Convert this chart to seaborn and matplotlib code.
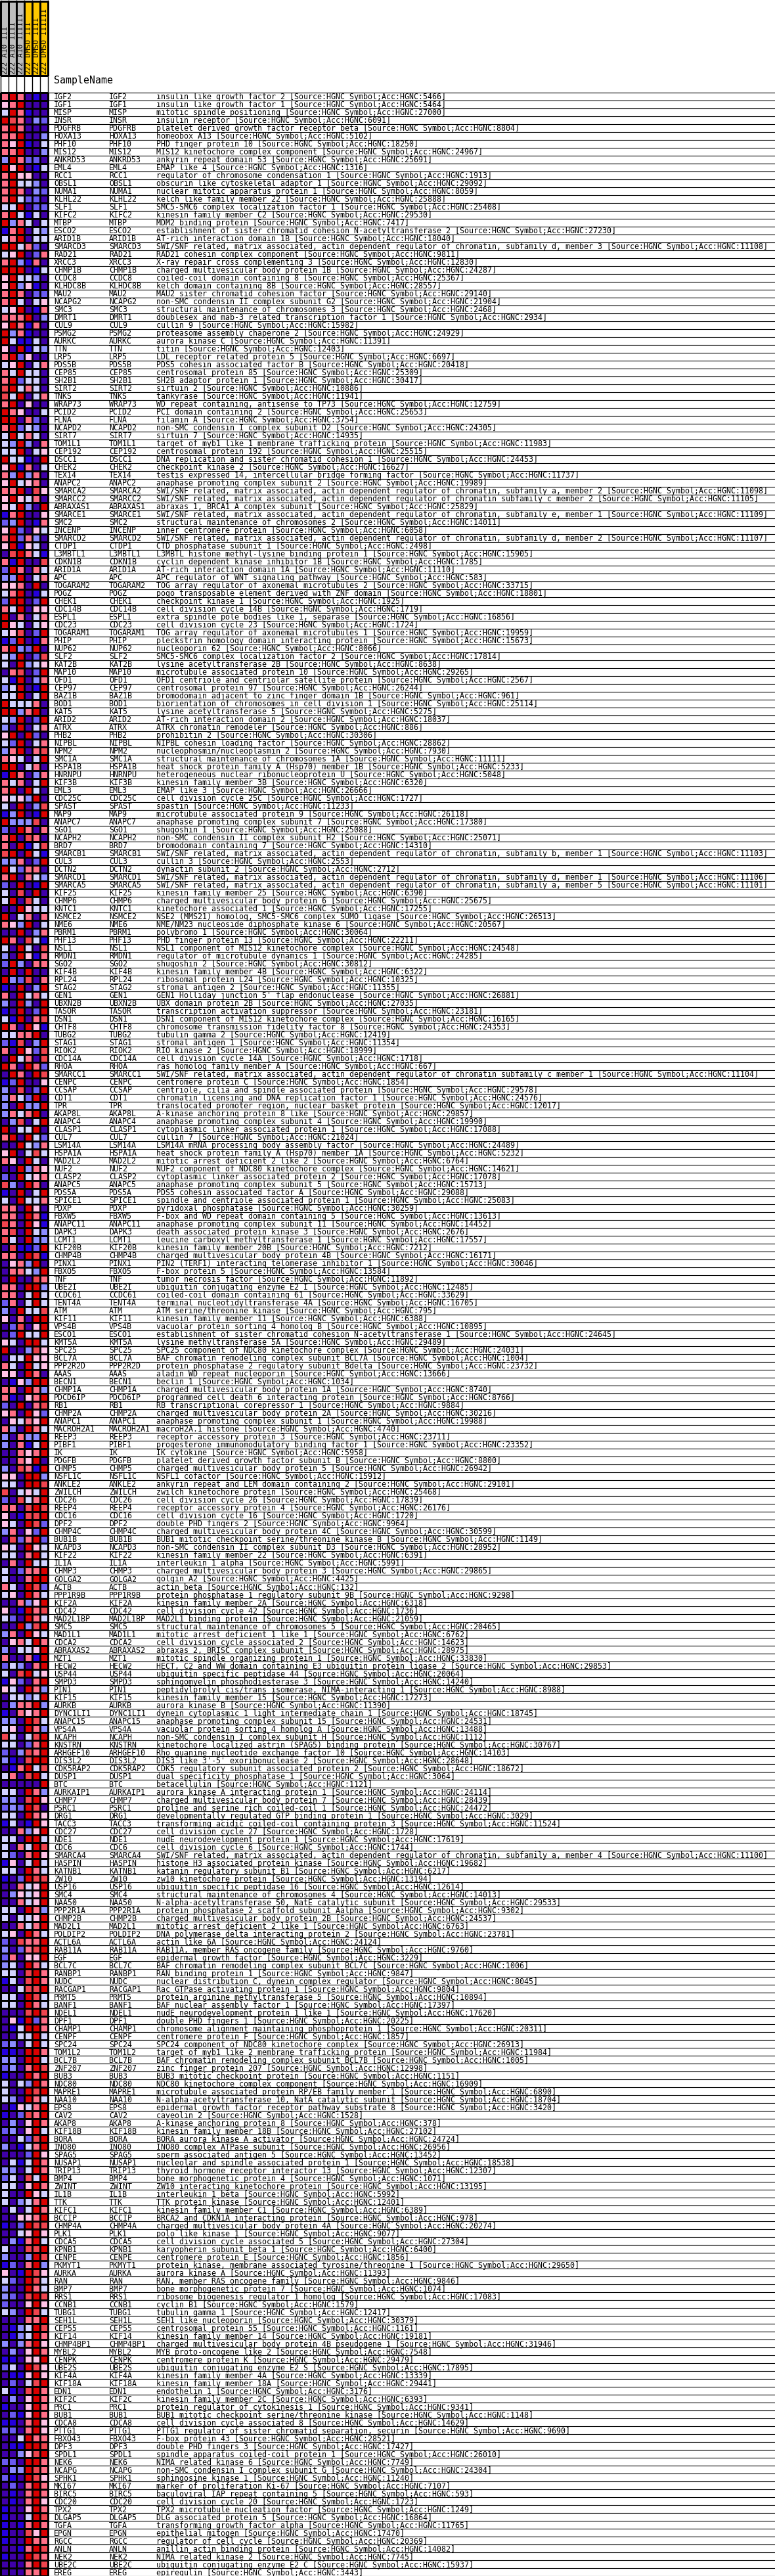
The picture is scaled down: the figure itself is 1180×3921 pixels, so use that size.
import numpy as np
import pandas as pd
import matplotlib
matplotlib.use("Agg")
import matplotlib.pyplot as plt
import seaborn as sns
from matplotlib.colors import LinearSegmentedColormap, ListedColormap

# ---------------- data ----------------
samples = ["222_A10_III", "222_A10_IIII", "222_A10_IIIIII",
           "222_DMSO_III", "222_DMSO_IIII", "222_DMSO_IIIIII"]
groups = ["A10", "A10", "A10", "DMSO", "DMSO", "DMSO"]
group_colors = {"A10": "#BEBEBE", "DMSO": "#FFC800"}

# colour level codes read off each cell (row z-scores, estimated)
code_value = {"D": -1.0, "B": -0.85, "m": -0.65, "b": -0.45, "l": -0.2,
              "p": 0.2, "s": 0.5, "o": 0.75, "R": 1.0}

genes = [
    "IGF2", "IGF1", "MISP", "INSR", "PDGFRB", "HOXA13", "PHF10", "MIS12", "ANKRD53", "EML4",
    "RCC1", "OBSL1", "NUMA1", "KLHL22", "SLF1", "KIFC2", "MTBP", "ESCO2", "ARID1B", "SMARCD3",
    "RAD21", "XRCC3", "CHMP1B", "CCDC8", "KLHDC8B", "MAU2", "NCAPG2", "SMC3", "DMRT1", "CUL9",
    "PSMG2", "AURKC", "TTN", "LRP5", "PDS5B", "CEP85", "SH2B1", "SIRT2", "TNKS", "WRAP73",
    "PCID2", "FLNA", "NCAPD2", "SIRT7", "TOM1L1",
    "CEP192", "DSCC1", "CHEK2", "TEX14", "ANAPC2", "SMARCA2", "SMARCC2", "ABRAXAS1", "SMARCE1", "SMC2",
    "INCENP", "SMARCD2", "CTDP1", "L3MBTL1", "CDKN1B", "ARID1A", "APC", "TOGARAM2", "POGZ", "CHEK1",
    "CDC14B", "ESPL1", "CDC23", "TOGARAM1", "PHIP", "NUP62", "SLF2", "KAT2B", "MAP10", "OFD1",
    "CEP97", "BAZ1B", "BOD1", "KAT5", "ARID2", "ATRX", "PHB2", "NIPBL", "NPM2", "SMC1A",
    "HSPA1B", "HNRNPU", "KIF3B", "EML3", "CDC25C",
    "SPAST", "MAP9", "ANAPC7", "SGO1", "NCAPH2", "BRD7", "SMARCB1", "CUL3", "DCTN2", "SMARCD1",
    "SMARCA5", "KIF25", "CHMP6", "KNTC1", "NSMCE2", "NME6", "PBRM1", "PHF13", "NSL1", "RMDN1",
    "SGO2", "KIF4B", "RPL24", "STAG2", "GEN1", "UBXN2B", "TASOR", "DSN1", "CHTF8", "TUBG2",
    "STAG1", "RIOK2", "CDC14A", "RHOA", "SMARCC1", "CENPC", "CCSAP", "CDT1", "TPR", "AKAP8L",
    "ANAPC4", "CLASP1", "CUL7", "LSM14A", "HSPA1A",
    "MAD2L2", "NUF2", "CLASP2", "ANAPC5", "PDS5A", "SPICE1", "PDXP", "FBXW5", "ANAPC11", "DAPK3",
    "LCMT1", "KIF20B", "CHMP4B", "PINX1", "FBXO5", "TNF", "UBE2I", "CCDC61", "TENT4A", "ATM",
    "KIF11", "VPS4B", "ESCO1", "KMT5A", "SPC25", "BCL7A", "PPP2R2D", "AAAS", "BECN1", "CHMP1A",
    "PDCD6IP", "RB1", "CHMP2A", "ANAPC1", "MACROH2A1", "REEP3", "PIBF1", "IK", "PDGFB", "CHMP5",
    "NSFL1C", "ANKLE2", "ZWILCH", "CDC26", "REEP4",
    "CDC16", "DPF2", "CHMP4C", "BUB1B", "NCAPD3", "KIF22", "IL1A", "CHMP3", "GOLGA2", "ACTB",
    "PPP1R9B", "KIF2A", "CDC42", "MAD2L1BP", "SMC5", "MAD1L1", "CDCA2", "ABRAXAS2", "MZT1", "HECW2",
    "USP44", "SMPD3", "PIN1", "KIF15", "AURKB", "DYNC1LI1", "ANAPC15", "VPS4A", "NCAPH", "KNSTRN",
    "ARHGEF10", "DIS3L2", "CDK5RAP2", "DUSP1", "BTC", "AURKAIP1", "CHMP7", "PSRC1", "DRG1", "TACC3",
    "CDC27", "NDE1", "CDC6", "SMARCA4", "HASPIN",
    "KATNB1", "ZW10", "USP16", "SMC4", "NAA50", "PPP2R1A", "CHMP2B", "MAD2L1", "POLDIP2", "ACTL6A",
    "RAB11A", "EGF", "BCL7C", "RANBP1", "NUDC", "RACGAP1", "PRMT5", "BANF1", "NDEL1", "DPF1",
    "CHAMP1", "CENPF", "SPC24", "TOM1L2", "BCL7B", "ZNF207", "BUB3", "NDC80", "MAPRE1", "NAA10",
    "EPS8", "CAV2", "AKAP8", "KIF18B", "BORA", "INO80", "SPAG5", "NUSAP1", "TRIP13", "BMP4",
    "ZWINT", "IL1B", "TTK", "KIFC1", "BCCIP",
    "CHMP4A", "PLK1", "CDCA5", "KPNB1", "CENPE", "PKMYT1", "AURKA", "RAN", "BMP7", "RRS1",
    "CCNB1", "TUBG1", "SEH1L", "CEP55", "KIF14", "CHMP4BP1", "MYBL2", "CENPK", "UBE2S", "KIF4A",
    "KIF18A", "EDN1", "KIF2C", "PRC1", "BUB1", "CDCA8", "PTTG1", "FBXO43", "DPF3", "SPDL1",
    "NEK6", "NCAPG", "SPHK1", "MKI67", "BIRC5", "CDC20", "TPX2", "DLGAP5", "TGFA", "EPGN",
    "RGCC", "ANLN", "NEK2", "UBE2C", "EREG",
]

cell_codes = [
    "sRsDBD", "psRDDD", "lRsBDD", "RosDbm", "sRsDDD", "ssRDDb", "spRBDl", "ssRDDb", "bRsmmD", "RpRDBl",
    "sRppDD", "sRllbD", "sRsDbm", "sRlmmD", "llRDmm", "sRlBlD", "RbslDl", "BsRDlb", "lsRDll", "RRlsmD",
    "lpRDms", "sRbBsD", "RRRDBl", "pRllbD", "pRbpBD", "sRsDmm", "sRlDlp", "lpRDBs", "sssRDb", "pRsBsD",
    "RbsBDD", "RlBBlD", "pDRBlb", "sRmpDD", "lpRDls", "slRllD", "sRmllD", "oRlslD", "olRDls", "sRDpDD",
    "RspDDl", "RRDsmD", "sRmlbD", "lRlslD", "lbRbDs",
    "llRDlp", "RllBDR", "pRBsDl", "sbRbsD", "pRlpsD", "ssRDop", "pRplsD", "plRbDR", "BsRDDp", "mbRDBs",
    "pRmDpl", "sRmsbD", "pRBplD", "DoRslB", "sBRDDo", "mRsDsl", "bbRDls", "ppsDRD", "lsRDBl", "mRRDmR",
    "slRDpp", "RDsDls", "RplDlp", "lpoDmR", "BmRDBs", "sRbmRD", "lbRDmo", "lDRblp", "DsoDmR", "lBRDbs",
    "blRDBR", "llRDlR", "RlllsD", "RRbsRD", "lbRDmR", "bDRDls", "pRDRmD", "lmRDls", "bsRDso", "splDlR",
    "RRDlsD", "BRsDbs", "slsDlR", "sRDRlD", "plpbRD",
    "lDRDbo", "BbRDBR", "RbbboD", "mDRsDs", "sRDosD", "sDRBlo", "oRDRlB", "bbsDmR", "RlmssD", "sRDslb",
    "mDRDBR", "lDoDRD", "lRDolD", "DDRpll", "RDlsDs", "spbRDl", "DDRDbs", "RsDolB", "lDRlDo", "bDRpBs",
    "mRbDss", "DRDRDD", "RbmoDs", "BDRDbR", "sDRlsl", "bDRbDR", "BDRDmR", "lBRDso", "RsDRpB", "llssRD",
    "mBoDbR", "sDRpmo", "DRlsDo", "RsDRsm", "DRsDRo", "BmRDDp", "bDoDmR", "bslmRD", "bDRbbR", "bslsRD",
    "DboDlR", "RDllRD", "sRDRlm", "DDRlbs", "pRDlol",
    "spDRlD", "DDRbsp", "mDRlps", "obDRsD", "BDRDlR", "lDRlls", "ssDRpD", "ssDRsB", "osDRpB", "soDRlb",
    "olDRbb", "DoBBmR", "ssDRoB", "DpsbRD", "DsslbR", "DRDDos", "ssDRRb", "ssDlRl", "msDlRl", "bDRllo",
    "pDsDRR", "DmoDpR", "DmRllR", "plDRRl", "RDDbop", "DllRpp", "slDRlp", "ppDRsD", "DBpbRR", "ssDRsb",
    "sBDpsR", "mDRDso", "psDRpm", "DplspR", "sbDRsl", "bDsbbR", "bDsBlR", "DDspsR", "DDspRD", "bDosBR",
    "ppDRRb", "llDRRo", "oDlplR", "mDolsR", "ssDoRo",
    "pDBooR", "plDRom", "bsDpmR", "DomsRm", "plDRpl", "llDsRl", "DsDRll", "lDmssR", "lDDsRR", "slDRom",
    "lpDRsl", "DDsbpR", "pDBRso", "lmDRsl", "DDRboR", "bsDRpl", "DpslRs", "bDllpR", "sDDsBR", "mlbDsR",
    "lDoRlp", "BpmDsR", "plDRsb", "DllblR", "DbssRb", "BDspsR", "bbDRol", "lpDRsb", "olDloR", "llDmsR",
    "mDbosR", "bBDoRR", "DBsRlo", "lsDoRl", "DDDDDR", "llDRsb", "bbDoRp", "mbmRoD", "llDRsp", "BlDBRp",
    "DDsbpR", "llDRRl", "lDslRo", "lmDsRp", "BpDlRl",
    "llDRsl", "BDmRoo", "DDslpR", "DbplpR", "DDslpR", "llDRsb", "lDllpR", "DDslsR", "lpDRsl", "mDossR",
    "bDmsoR", "msDppR", "blDRsl", "llDoRs", "BlDoRs", "DDlooR", "llDRol", "llDRsl", "DDDoRo", "DpBRms",
    "DBlRRs", "DDllRl", "mbDlRl", "BBDRRs", "bbDRRl", "mbDsRo", "BDDRsR", "lDlbRs", "lDDRoR", "lbDRsl",
    "DBplsR", "BDmosR", "DbDpRs", "mbDpRl", "DDlmoR", "bDBlsR", "DDDmRp", "DlBlRs", "bbDlRs", "mlDolR",
    "llDpRs", "lDDRpl", "lDblsR", "DlDlRs", "DDppsR",
    "BDmRoo", "DDlpRp", "DbBsRl", "lDDooR", "bDDbRo", "BmDsRb", "pDBRop", "lmDRol", "bDDRsl", "bmDoRo",
    "mDDpRp", "lbDRol", "DDDssR", "DBblRo", "DBblRs", "bDbsRp", "DbDpRs", "BBDppR", "mlDRop", "DBBpRp",
    "DmDloR", "lBDoRs", "DbDpRs", "BDDpRs", "DmBpRs", "BBDsRp", "mmDsRp", "DDlRss", "DBBRRo", "DDbpoR",
    "mmDRRs", "DbbRos", "mBDRop", "DmDsRs", "DBDsRs", "DBDsRp", "BDDpRs", "BDDlRo", "BDBsRs", "BDDopR",
    "BDDRss", "DDBsRo", "BDDRos", "DDDsRo", "DDDssR",
]

SW_A = "SWI/SNF related, matrix associated, actin dependent regulator of chromatin, subfamily "
SW_C = "SWI/SNF related, matrix associated, actin dependent regulator of chromatin subfamily "

descriptions = [
    "insulin like growth factor 2", "insulin like growth factor 1", "mitotic spindle positioning",
    "insulin receptor", "platelet derived growth factor receptor beta", "homeobox A13",
    "PHD finger protein 10", "MIS12 kinetochore complex component", "ankyrin repeat domain 53",
    "EMAP like 4", "regulator of chromosome condensation 1", "obscurin like cytoskeletal adaptor 1",
    "nuclear mitotic apparatus protein 1", "kelch like family member 22",
    "SMC5-SMC6 complex localization factor 1", "kinesin family member C2", "MDM2 binding protein",
    "establishment of sister chromatid cohesion N-acetyltransferase 2", "AT-rich interaction domain 1B",
    SW_A + "d, member 3", "RAD21 cohesin complex component", "X-ray repair cross complementing 3",
    "charged multivesicular body protein 1B", "coiled-coil domain containing 8", "kelch domain containing 8B",
    "MAU2 sister chromatid cohesion factor", "non-SMC condensin II complex subunit G2",
    "structural maintenance of chromosomes 3", "doublesex and mab-3 related transcription factor 1",
    "cullin 9", "proteasome assembly chaperone 2", "aurora kinase C", "titin",
    "LDL receptor related protein 5", "PDS5 cohesin associated factor B", "centrosomal protein 85",
    "SH2B adaptor protein 1", "sirtuin 2", "tankyrase", "WD repeat containing, antisense to TP73",
    "PCI domain containing 2", "filamin A", "non-SMC condensin I complex subunit D2", "sirtuin 7",
    "target of myb1 like 1 membrane trafficking protein",
    # 46-90
    "centrosomal protein 192", "DNA replication and sister chromatid cohesion 1", "checkpoint kinase 2",
    "testis expressed 14, intercellular bridge forming factor", "anaphase promoting complex subunit 2",
    SW_A + "a, member 2", SW_C + "c member 2", "abraxas 1, BRCA1 A complex subunit",
    SW_A + "e, member 1", "structural maintenance of chromosomes 2", "inner centromere protein",
    SW_A + "d, member 2", "CTD phosphatase subunit 1", "L3MBTL histone methyl-lysine binding protein 1",
    "cyclin dependent kinase inhibitor 1B", "AT-rich interaction domain 1A",
    "APC regulator of WNT signaling pathway", "TOG array regulator of axonemal microtubules 2",
    "pogo transposable element derived with ZNF domain", "checkpoint kinase 1", "cell division cycle 14B",
    "extra spindle pole bodies like 1, separase", "cell division cycle 23",
    "TOG array regulator of axonemal microtubules 1", "pleckstrin homology domain interacting protein",
    "nucleoporin 62", "SMC5-SMC6 complex localization factor 2", "lysine acetyltransferase 2B",
    "microtubule associated protein 10", "OFD1 centriole and centriolar satellite protein",
    "centrosomal protein 97", "bromodomain adjacent to zinc finger domain 1B",
    "biorientation of chromosomes in cell division 1", "lysine acetyltransferase 5",
    "AT-rich interaction domain 2", "ATRX chromatin remodeler", "prohibitin 2", "NIPBL cohesin loading factor",
    "nucleophosmin/nucleoplasmin 2", "structural maintenance of chromosomes 1A",
    "heat shock protein family A (Hsp70) member 1B", "heterogeneous nuclear ribonucleoprotein U",
    "kinesin family member 3B", "EMAP like 3", "cell division cycle 25C",
    # 91-135
    "spastin", "microtubule associated protein 9", "anaphase promoting complex subunit 7", "shugoshin 1",
    "non-SMC condensin II complex subunit H2", "bromodomain containing 7", SW_A + "b, member 1", "cullin 3",
    "dynactin subunit 2", SW_A + "d, member 1", SW_A + "a, member 5", "kinesin family member 25",
    "charged multivesicular body protein 6", "kinetochore associated 1",
    "NSE2 (MMS21) homolog, SMC5-SMC6 complex SUMO ligase", "NME/NM23 nucleoside diphosphate kinase 6",
    "polybromo 1", "PHD finger protein 13", "NSL1 component of MIS12 kinetochore complex",
    "regulator of microtubule dynamics 1", "shugoshin 2", "kinesin family member 4B", "ribosomal protein L24",
    "stromal antigen 2", "GEN1 Holliday junction 5' flap endonuclease", "UBX domain protein 2B",
    "transcription activation suppressor", "DSN1 component of MIS12 kinetochore complex",
    "chromosome transmission fidelity factor 8", "tubulin gamma 2", "stromal antigen 1", "RIO kinase 2",
    "cell division cycle 14A", "ras homolog family member A", SW_C + "c member 1", "centromere protein C",
    "centriole, cilia and spindle associated protein", "chromatin licensing and DNA replication factor 1",
    "translocated promoter region, nuclear basket protein", "A-kinase anchoring protein 8 like",
    "anaphase promoting complex subunit 4", "cytoplasmic linker associated protein 1", "cullin 7",
    "LSM14A mRNA processing body assembly factor", "heat shock protein family A (Hsp70) member 1A",
    # 136-180
    "mitotic arrest deficient 2 like 2", "NUF2 component of NDC80 kinetochore complex",
    "cytoplasmic linker associated protein 2", "anaphase promoting complex subunit 5",
    "PDS5 cohesin associated factor A", "spindle and centriole associated protein 1", "pyridoxal phosphatase",
    "F-box and WD repeat domain containing 5", "anaphase promoting complex subunit 11",
    "death associated protein kinase 3", "leucine carboxyl methyltransferase 1", "kinesin family member 20B",
    "charged multivesicular body protein 4B", "PIN2 (TERF1) interacting telomerase inhibitor 1",
    "F-box protein 5", "tumor necrosis factor", "ubiquitin conjugating enzyme E2 I",
    "coiled-coil domain containing 61", "terminal nucleotidyltransferase 4A", "ATM serine/threonine kinase",
    "kinesin family member 11", "vacuolar protein sorting 4 homolog B",
    "establishment of sister chromatid cohesion N-acetyltransferase 1", "lysine methyltransferase 5A",
    "SPC25 component of NDC80 kinetochore complex", "BAF chromatin remodeling complex subunit BCL7A",
    "protein phosphatase 2 regulatory subunit Bdelta", "aladin WD repeat nucleoporin", "beclin 1",
    "charged multivesicular body protein 1A", "programmed cell death 6 interacting protein",
    "RB transcriptional corepressor 1", "charged multivesicular body protein 2A",
    "anaphase promoting complex subunit 1", "macroH2A.1 histone", "receptor accessory protein 3",
    "progesterone immunomodulatory binding factor 1", "IK cytokine",
    "platelet derived growth factor subunit B", "charged multivesicular body protein 5", "NSFL1 cofactor",
    "ankyrin repeat and LEM domain containing 2", "zwilch kinetochore protein", "cell division cycle 26",
    "receptor accessory protein 4",
    # 181-225
    "cell division cycle 16", "double PHD fingers 2", "charged multivesicular body protein 4C",
    "BUB1 mitotic checkpoint serine/threonine kinase B", "non-SMC condensin II complex subunit D3",
    "kinesin family member 22", "interleukin 1 alpha", "charged multivesicular body protein 3", "golgin A2",
    "actin beta", "protein phosphatase 1 regulatory subunit 9B", "kinesin family member 2A",
    "cell division cycle 42", "MAD2L1 binding protein", "structural maintenance of chromosomes 5",
    "mitotic arrest deficient 1 like 1", "cell division cycle associated 2",
    "abraxas 2, BRISC complex subunit", "mitotic spindle organizing protein 1",
    "HECT, C2 and WW domain containing E3 ubiquitin protein ligase 2", "ubiquitin specific peptidase 44",
    "sphingomyelin phosphodiesterase 3", "peptidylprolyl cis/trans isomerase, NIMA-interacting 1",
    "kinesin family member 15", "aurora kinase B", "dynein cytoplasmic 1 light intermediate chain 1",
    "anaphase promoting complex subunit 15", "vacuolar protein sorting 4 homolog A",
    "non-SMC condensin I complex subunit H", "kinetochore localized astrin (SPAG5) binding protein",
    "Rho guanine nucleotide exchange factor 10", "DIS3 like 3'-5' exoribonuclease 2",
    "CDK5 regulatory subunit associated protein 2", "dual specificity phosphatase 1", "betacellulin",
    "aurora kinase A interacting protein 1", "charged multivesicular body protein 7",
    "proline and serine rich coiled-coil 1", "developmentally regulated GTP binding protein 1",
    "transforming acidic coiled-coil containing protein 3", "cell division cycle 27",
    "nudE neurodevelopment protein 1", "cell division cycle 6", SW_A + "a, member 4",
    "histone H3 associated protein kinase",
    # 226-270
    "katanin regulatory subunit B1", "zw10 kinetochore protein", "ubiquitin specific peptidase 16",
    "structural maintenance of chromosomes 4", "N-alpha-acetyltransferase 50, NatE catalytic subunit",
    "protein phosphatase 2 scaffold subunit Aalpha", "charged multivesicular body protein 2B",
    "mitotic arrest deficient 2 like 1", "DNA polymerase delta interacting protein 2", "actin like 6A",
    "RAB11A, member RAS oncogene family", "epidermal growth factor",
    "BAF chromatin remodeling complex subunit BCL7C", "RAN binding protein 1",
    "nuclear distribution C, dynein complex regulator", "Rac GTPase activating protein 1",
    "protein arginine methyltransferase 5", "BAF nuclear assembly factor 1",
    "nudE neurodevelopment protein 1 like 1", "double PHD fingers 1",
    "chromosome alignment maintaining phosphoprotein 1", "centromere protein F",
    "SPC24 component of NDC80 kinetochore complex", "target of myb1 like 2 membrane trafficking protein",
    "BAF chromatin remodeling complex subunit BCL7B", "zinc finger protein 207",
    "BUB3 mitotic checkpoint protein", "NDC80 kinetochore complex component",
    "microtubule associated protein RP/EB family member 1",
    "N-alpha-acetyltransferase 10, NatA catalytic subunit",
    "epidermal growth factor receptor pathway substrate 8", "caveolin 2", "A-kinase anchoring protein 8",
    "kinesin family member 18B", "BORA aurora kinase A activator", "INO80 complex ATPase subunit",
    "sperm associated antigen 5", "nucleolar and spindle associated protein 1",
    "thyroid hormone receptor interactor 13", "bone morphogenetic protein 4",
    "ZW10 interacting kinetochore protein", "interleukin 1 beta", "TTK protein kinase",
    "kinesin family member C1", "BRCA2 and CDKN1A interacting protein",
    # 271-315
    "charged multivesicular body protein 4A", "polo like kinase 1", "cell division cycle associated 5",
    "karyopherin subunit beta 1", "centromere protein E",
    "protein kinase, membrane associated tyrosine/threonine 1", "aurora kinase A",
    "RAN, member RAS oncogene family", "bone morphogenetic protein 7", "ribosome biogenesis regulator 1 homolog",
    "cyclin B1", "tubulin gamma 1", "SEH1 like nucleoporin", "centrosomal protein 55",
    "kinesin family member 14", "charged multivesicular body protein 4B pseudogene 1",
    "MYB proto-oncogene like 2", "centromere protein K", "ubiquitin conjugating enzyme E2 S",
    "kinesin family member 4A", "kinesin family member 18A", "endothelin 1", "kinesin family member 2C",
    "protein regulator of cytokinesis 1", "BUB1 mitotic checkpoint serine/threonine kinase",
    "cell division cycle associated 8", "PTTG1 regulator of sister chromatid separation, securin",
    "F-box protein 43", "double PHD fingers 3", "spindle apparatus coiled-coil protein 1",
    "NIMA related kinase 6", "non-SMC condensin I complex subunit G", "sphingosine kinase 1",
    "marker of proliferation Ki-67", "baculoviral IAP repeat containing 5", "cell division cycle 20",
    "TPX2 microtubule nucleation factor", "DLG associated protein 5", "transforming growth factor alpha",
    "epithelial mitogen", "regulator of cell cycle", "anillin actin binding protein", "NIMA related kinase 2",
    "ubiquitin conjugating enzyme E2 C", "epiregulin",
]

hgnc_acc = [
    5466, 5464, 27000, 6091, 8804, 5102, 18250, 24967, 25691, 1316,
    1913, 29092, 8059, 25888, 25408, 29530, 7417, 27230, 18040, 11108,
    9811, 12830, 24287, 25367, 28557, 29140, 21904, 2468, 2934, 15982,
    24929, 11391, 12403, 6697, 20418, 25309, 30417, 10886, 11941, 12759,
    25653, 3754, 24305, 14935, 11983,
    25515, 24453, 16627, 11737, 19989, 11098, 11105, 25829, 11109, 14011,
    6058, 11107, 2498, 15905, 1785, 11110, 583, 33715, 18801, 1925,
    1719, 16856, 1724, 19959, 15673, 8066, 17814, 8638, 29265, 2567,
    26244, 961, 25114, 5275, 18037, 886, 30306, 28862, 7930, 11111,
    5233, 5048, 6320, 26666, 1727,
    11233, 26118, 17380, 25088, 25071, 14310, 11103, 2553, 2712, 11106,
    11101, 6390, 25675, 17255, 26513, 20567, 30064, 22211, 24548, 24285,
    30812, 6322, 10325, 11355, 26881, 27035, 23181, 16165, 24353, 12419,
    11354, 18999, 1718, 667, 11104, 1854, 29578, 24576, 12017, 29857,
    19990, 17088, 21024, 24489, 5232,
    6764, 14621, 17078, 15713, 29088, 25083, 30259, 13613, 14452, 2676,
    17557, 7212, 16171, 30046, 13584, 11892, 12485, 33629, 16705, 795,
    6388, 10895, 24645, 29489, 24031, 1004, 23732, 13666, 1034, 8740,
    8766, 9884, 30216, 19988, 4740, 23711, 23352, 5958, 8800, 26942,
    15912, 29101, 25468, 17839, 26176,
    1720, 9964, 30599, 1149, 28952, 6391, 5991, 29865, 4425, 132,
    9298, 6318, 1736, 21059, 20465, 6762, 14623, 28975, 33830, 29853,
    20064, 14240, 8988, 17273, 11390, 18745, 24531, 13488, 1112, 30767,
    14103, 28648, 18672, 3064, 1121, 24114, 28439, 24472, 3029, 11524,
    1728, 17619, 1744, 11100, 19682,
    6217, 13194, 12614, 14013, 29533, 9302, 24537, 6763, 23781, 24124,
    9760, 3229, 1006, 9847, 8045, 9804, 10894, 17397, 17620, 20225,
    20311, 1857, 26913, 11984, 1005, 12998, 1151, 16909, 6890, 18704,
    3420, 1528, 378, 27102, 24724, 26956, 13452, 18538, 12307, 1071,
    13195, 5992, 12401, 6389, 978,
    20274, 9077, 27304, 6400, 1856, 29650, 11393, 9846, 1074, 17083,
    1579, 12417, 30379, 1161, 19181, 31946, 7548, 29479, 17895, 13339,
    29441, 3176, 6393, 9341, 1148, 14629, 9690, 28521, 17427, 26010,
    7749, 24304, 11240, 7107, 593, 1723, 1249, 16864, 11765, 17470,
    20369, 14082, 7745, 15937, 3443,
]

assert len(genes) == len(cell_codes) == len(descriptions) == len(hgnc_acc), (
    len(genes), len(cell_codes), len(descriptions), len(hgnc_acc))

# ---------------- build tables ----------------
values = np.array([[code_value[c] for c in row] for row in cell_codes])
mat_df = pd.DataFrame(values, index=genes, columns=samples)
group_df = pd.DataFrame([[0 if g == "A10" else 1 for g in groups]], columns=samples)

cmap = LinearSegmentedColormap.from_list("hm", [
    (0.000, "#3F00A8"),
    (0.075, "#2400DC"),
    (0.175, "#6C5CF0"),
    (0.275, "#8C8CFF"),
    (0.400, "#D2D2FF"),
    (0.500, "#FFFFFF"),
    (0.600, "#FFC2E6"),
    (0.750, "#FF7088"),
    (0.875, "#F04650"),
    (1.000, "#DA0000"),
])

# ---------------- layout ----------------
W, H = 1180, 3921
fig = plt.figure(figsize=(W / 100, H / 100), dpi=100)
fig.patch.set_facecolor("white")
MONO = "DejaVu Sans Mono"


def px_axes(x0, y0, x1, y1):
    return fig.add_axes([x0 / W, 1 - y1 / H, (x1 - x0) / W, (y1 - y0) / H])


hm_x0, hm_x1 = 0.8, 73.0
top_y = 140.5
n_rows = len(genes)
row_h = (H - top_y) / n_rows

ax_hm = px_axes(hm_x0, top_y, hm_x1, H)
sns.heatmap(mat_df, ax=ax_hm, cmap=cmap, vmin=-1, vmax=1, cbar=False,
            linewidths=1.0, linecolor="black", xticklabels=False, yticklabels=False)
ax_hm.collections[0].set_clip_on(False)
ax_hm.set_xlabel("")
ax_hm.set_ylabel("")

ax_head = px_axes(hm_x0, 1.5, hm_x1, 115)
sns.heatmap(group_df, ax=ax_head,
            cmap=ListedColormap([group_colors["A10"], group_colors["DMSO"]]),
            vmin=0, vmax=1, cbar=False, linewidths=1.0, linecolor="black",
            xticklabels=False, yticklabels=False)
ax_head.collections[0].set_clip_on(False)
ax_head.set_xlabel("")
ax_head.set_ylabel("")
for j, s in enumerate(samples):
    ax_head.text(j + 0.5, 0.985, s, rotation=90, ha="center", va="bottom",
                 fontsize=8.1, family=MONO, color="black")

# overlay axes in pixel coordinates for the table text and rules
ax_t = px_axes(0, 0, W, H)
ax_t.set_xlim(0, W)
ax_t.set_ylim(H, 0)
ax_t.axis("off")
ax_t.patch.set_visible(False)

col_edges = np.linspace(hm_x0, hm_x1, len(samples) + 1)
ax_t.vlines(col_edges, 0, top_y, colors="black", linewidth=1.0)
row_edges = top_y + row_h * np.arange(n_rows + 1)
ax_t.hlines(row_edges, 0, W, colors="black", linewidth=0.8)

ax_t.text(82, 127.5, "SampleName", fontsize=10.7, family=MONO, va="baseline", ha="left")

fs = 8.4
for i, g in enumerate(genes):
    yb = top_y + row_h * (i + 1) - 1.3
    ax_t.text(82, yb, g, fontsize=fs, family=MONO, va="baseline", ha="left")
    ax_t.text(166, yb, g, fontsize=fs, family=MONO, va="baseline", ha="left")
    full = f"{descriptions[i]} [Source:HGNC Symbol;Acc:HGNC:{hgnc_acc[i]}]"
    ax_t.text(238, yb, full, fontsize=fs, family=MONO, va="baseline", ha="left")

fig.savefig("out.png", dpi=100, facecolor="white")
